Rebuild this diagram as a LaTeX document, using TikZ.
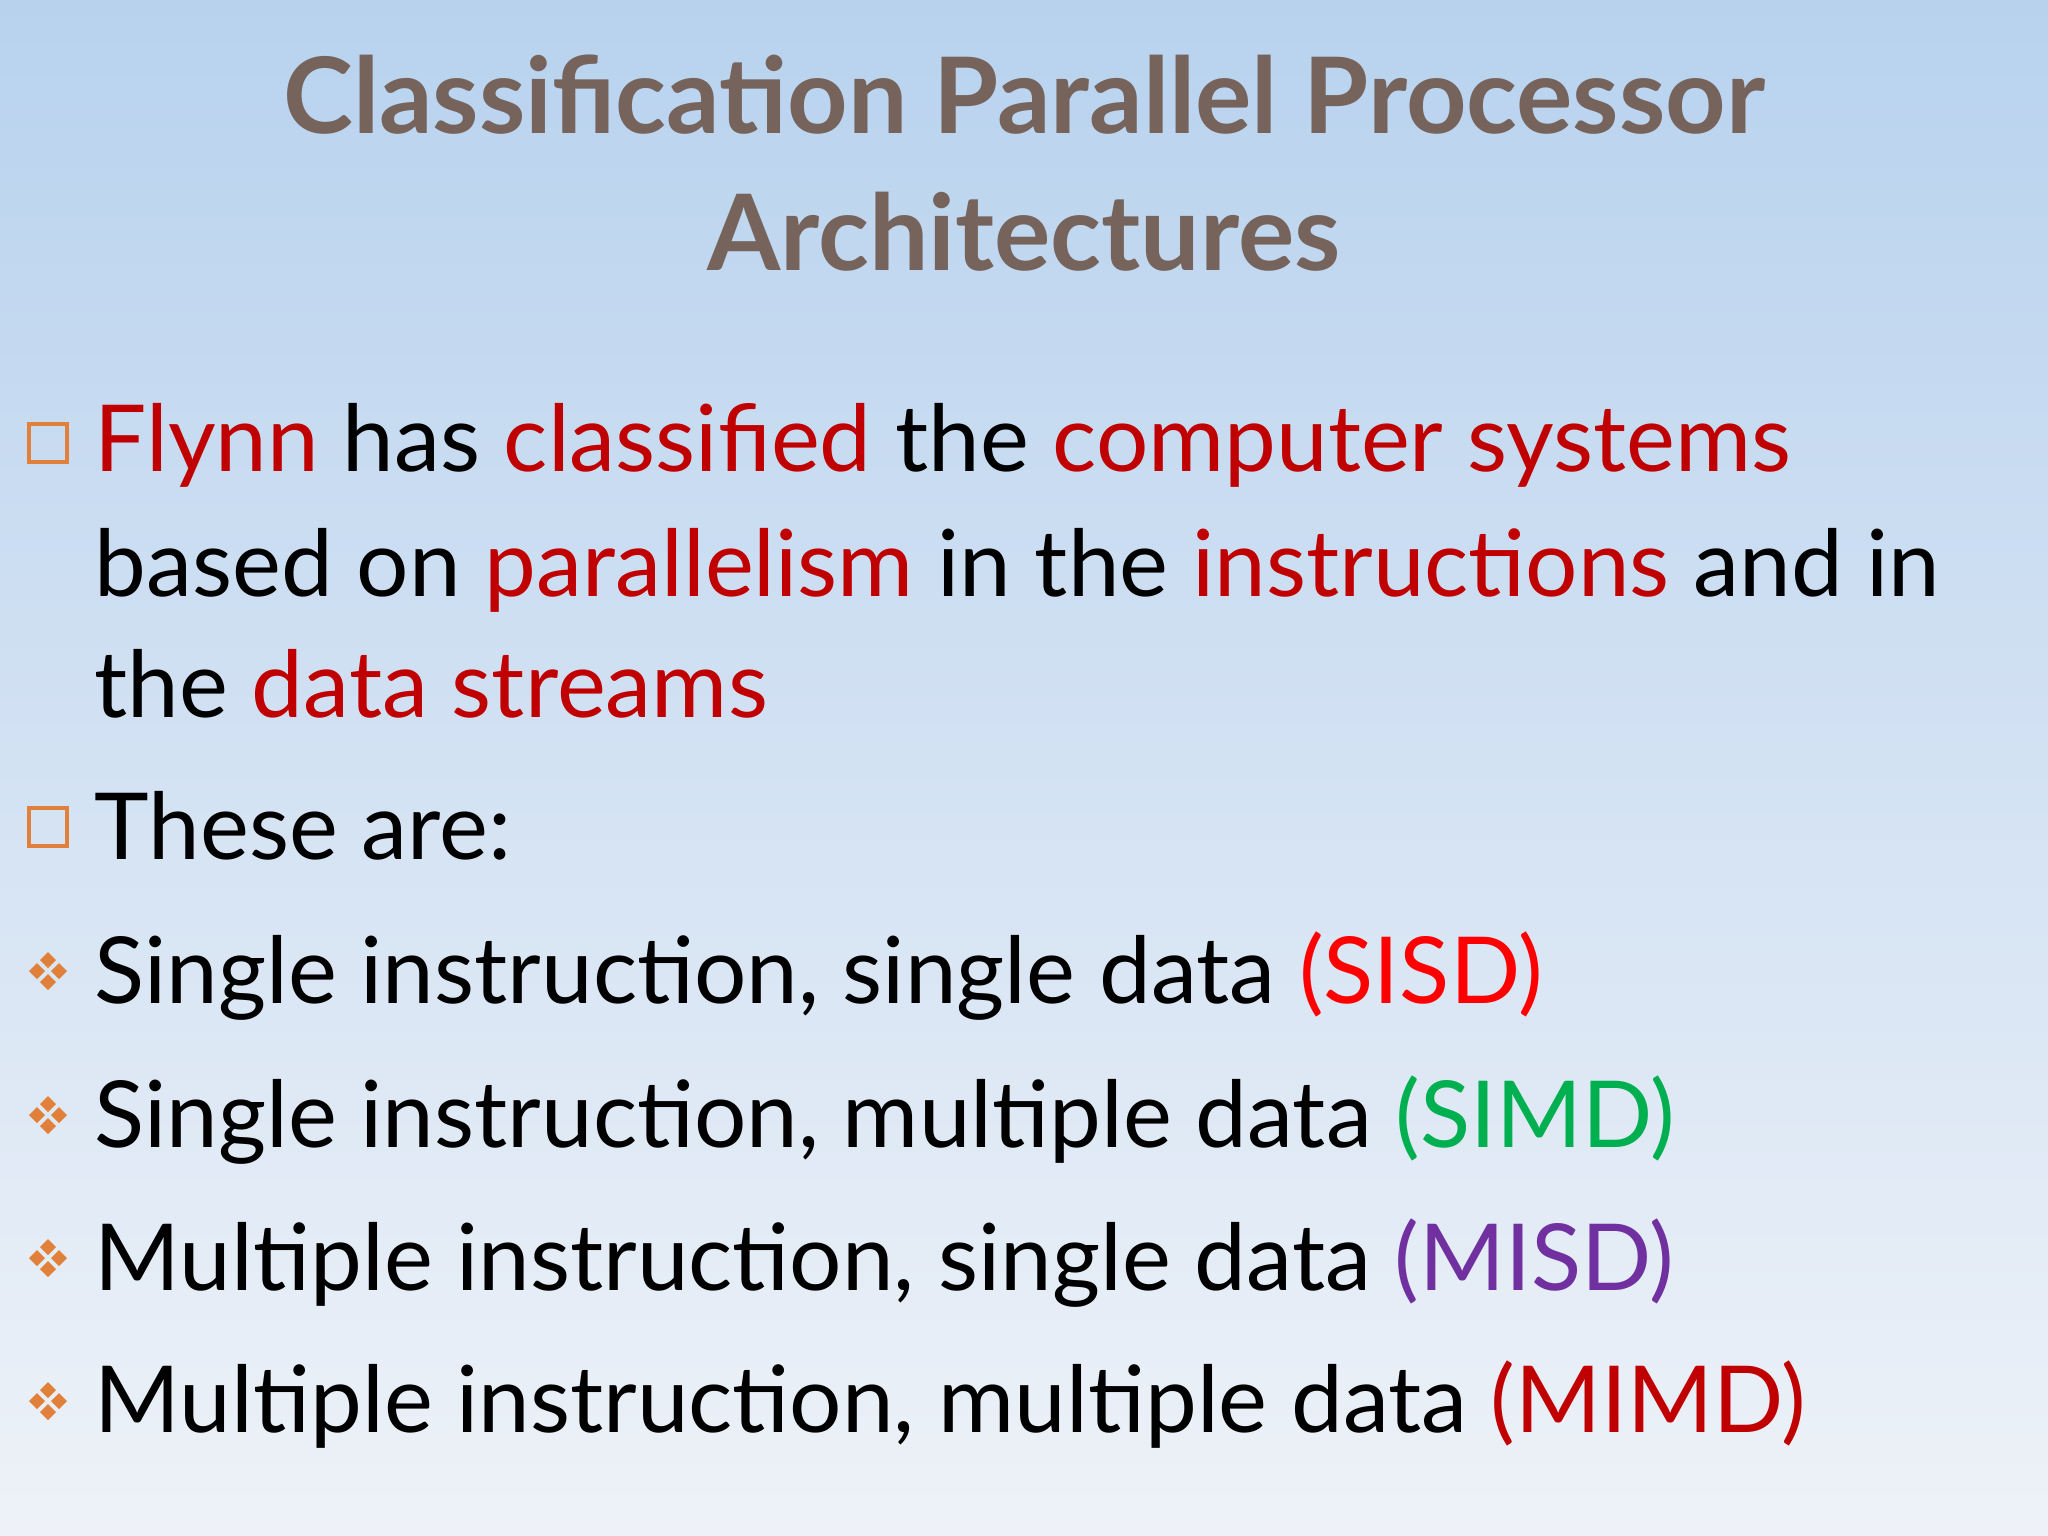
\documentclass[tikz,border=0pt]{standalone}
\usepackage{fontspec}
\setmainfont{Lato}
\definecolor{titlec}{HTML}{76645C}
\definecolor{redc}{HTML}{C00000}
\definecolor{brightred}{HTML}{FF0000}
\definecolor{greenc}{HTML}{00B050}
\definecolor{purplec}{HTML}{7030A0}
\definecolor{bulc}{HTML}{E0803A}
\begin{document}
\begin{tikzpicture}[x=0.01cm,y=-0.01cm,
  line/.style={anchor=base west,font=\fontsize{26.3}{30}\selectfont,inner sep=0},
  ttl/.style={anchor=base,font=\bfseries\fontsize{30}{34}\selectfont,text=titlec,inner sep=0}]
\fill[top color={rgb,255:red,184;green,210;blue,238},bottom color={rgb,255:red,238;green,242;blue,248}] (0,0) rectangle (2048,1535);
\useasboundingbox (0,0) rectangle (2048,1535);
\node[ttl] (t1) at (1024,133) {Classification Parallel Processor};
\node[ttl] (t2) at (1024,270) {Architectures};
\tikzset{sq/.pic={\draw[bulc,line width=1.3pt] (-19,-19) rectangle (19,19);},
 dia/.pic={\foreach \dx/\dy in {0/-11,0/11,-11/0,11/0}{\fill[bulc] (\dx,\dy-8) -- (\dx+8,\dy) -- (\dx,\dy+8) -- (\dx-8,\dy) -- cycle;}}}
\pic at (48,443) {sq};
\pic at (48,827) {sq};
\foreach \y in {971,1115,1258,1401} \pic at (48,\y) {dia};
\node[line] (l1) at (94,471) {\textcolor{redc}{Flynn} has \textcolor{redc}{classified} the \textcolor{redc}{computer systems}};
\node[line] (l2) at (94,596) {based on \textcolor{redc}{parallelism} in the \textcolor{redc}{instructions} and in};
\node[line] (l3) at (94,717) {the \textcolor{redc}{data streams}};
\node[line] (l4) at (94,859) {These are:};
\node[line] (l5) at (94,1003) {Single instruction, single data \textcolor{brightred}{(SISD)}};
\node[line] (l6) at (94,1147) {Single instruction, multiple data \textcolor{greenc}{(SIMD)}};
\node[line] (l7) at (94,1290) {Multiple instruction, single data \textcolor{purplec}{(MISD)}};
\node[line] (l8) at (94,1432) {Multiple instruction, multiple data \textcolor{redc}{(MIMD)}};
\end{tikzpicture}
\end{document}
